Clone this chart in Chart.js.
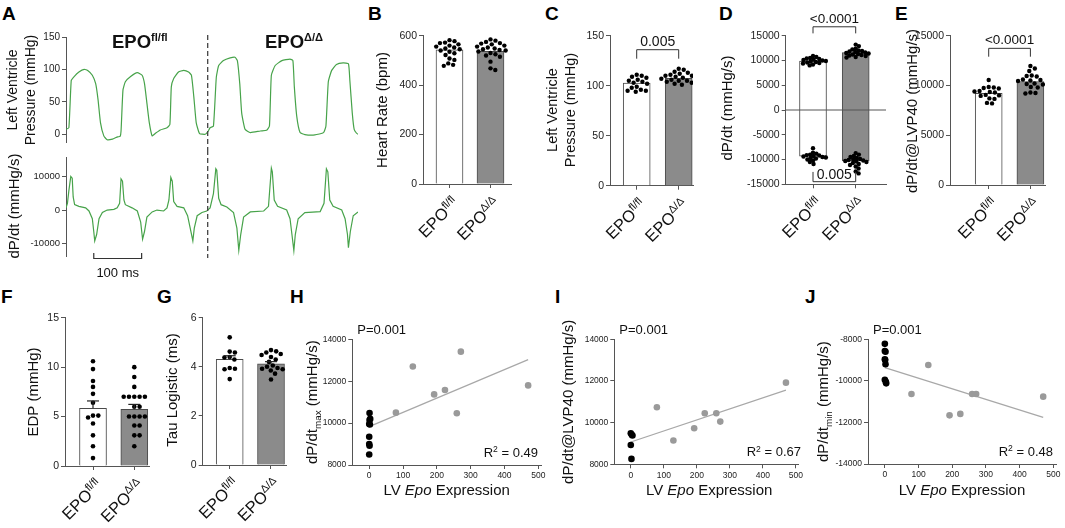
<!DOCTYPE html>
<html>
<head>
<meta charset="utf-8">
<script src="https://cdn.jsdelivr.net/npm/chart.js@4.4.1/dist/chart.umd.min.js"></script>
<style>
  html, body { margin: 0; padding: 0; background: #fff; }
  #fig { position: relative; width: 1065px; height: 528px; overflow: hidden; font-family: "Liberation Sans", Arial, sans-serif; }
  .lt { position: absolute; font-weight: bold; font-size: 19px; line-height: 19px; color: #000; }
</style>
</head>
<body>
<div id="fig">
  <div class="lt" style="left:2px;top:4px">A</div>
  <div class="lt" style="left:368px;top:4px">B</div>
  <div class="lt" style="left:545px;top:4px">C</div>
  <div class="lt" style="left:719px;top:4px">D</div>
  <div class="lt" style="left:895px;top:4px">E</div>
  <div class="lt" style="left:1px;top:287px">F</div>
  <div class="lt" style="left:157px;top:287px">G</div>
  <div class="lt" style="left:290px;top:287px">H</div>
  <div class="lt" style="left:555px;top:287px">I</div>
  <div class="lt" style="left:805px;top:287px">J</div>
</div>
<script>
// ---- values ----
const groupSup = ['fl/fl', 'Δ/Δ'];

// A: representative traces, time in ms
const pressT = [0, 6, 11, 17, 27, 38, 46, 55, 62, 67, 72, 79, 86, 97, 108, 113, 115, 119, 124, 135,
  149, 159, 164, 169, 174, 180, 187, 197, 211, 217, 220, 225, 235, 246, 256, 262, 267, 272, 279, 291,
  296, 301, 308, 314, 319, 329, 343, 353, 358, 363, 367, 374, 385, 406, 419, 425, 429, 437, 451, 468,
  474, 477, 482, 489, 499, 520, 538, 543, 548, 555, 565, 579, 590, 593, 598, 602, 607, 610];
const pressV = [7.6, 10, 83, 89, 96, 100, 98, 91, 78, 53, 18, -2.5, -8.6, -7.6, -4, -3.5, 5, 68, 81, 89,
  95, 91, 78, 48, 18, -2.5, 1.5, 6.6, 10, 15, 73, 86, 96, 98.5, 96, 91, 58, 18, 1, 0,
  3.5, 10, 12.6, 88, 106, 113.6, 117.7, 118.7, 113.6, 78, 33, 7.6, 2.5, 5, 6, 12.6, 91, 106, 113.6, 116,
  113.6, 73, 28, 2.5, -0.5, -1, 2.5, 12.6, 81, 98.5, 107.6, 110, 108.6, 83, 33, 7.6, 1.5, 0];
const dpT = [0, 3, 6, 10, 13, 15, 18, 27, 41, 48, 55, 58, 60, 64, 69, 76, 86, 100, 107, 112,
  115, 118, 121, 124, 138, 149, 156, 160, 164, 169, 180, 190, 204, 211, 215, 219, 222, 225, 232, 246,
  254, 261, 265, 268, 274, 284, 294, 301, 308, 313, 315, 319, 324, 336, 350, 357, 361, 365, 371, 385,
  413, 423, 429, 431, 435, 442, 461, 468, 472, 476, 479, 485, 499, 531, 539, 544, 547, 551, 558, 576,
  583, 588, 590, 594, 600, 610];
const dpV = [650, 2000, 5800, 10000, 9500, 3900, 1600, 1100, 650, -280, -2600, -6400, -9200, -7300, -2600, -750, 0, 200, 650, 2000,
  9300, 8600, 3000, 1600, 650, -280, -3600, -8700, -6400, -2100, -560, 0, -280, 650, 3000, 9700, 8600, 2500, 1100, 650,
  -1700, -6400, -9200, -5400, -1700, -750, -280, 650, 4900, 12300, 11900, 3500, 1600, 900, -750, -5400, -12000, -7300, -2100, -560,
  -280, 1100, 12500, 11400, 3000, 1100, 0, -2600, -7300, -12100, -7300, -2600, -750, -470, 2000, 12300, 11400, 3000, 1100, 0,
  -2600, -7300, -11200, -6400, -1700, -560];
const pressTicks = [0, 50, 100, 150];
const dpTraceTicks = [-10000, 0, 10000];
const splitT = 296;
const scaleBarT = [58, 158];

// B: heart rate (bpm)
const hrFl = [582, 578, 572, 570, 565, 560, 556, 552, 548, 545, 540, 535, 529, 522, 508, 502, 488, 482, 478];
const hrDel = [585, 580, 575, 570, 568, 565, 560, 556, 552, 548, 545, 542, 540, 536, 530, 525, 520, 515, 495, 468, 461];
const hrMean = [543, 537];
const hrTicks = [0, 200, 400, 600];

// C: LV pressure (mmHg)
const lvpFl = [111, 110, 109, 108, 106, 105, 104, 103, 102, 99, 98, 96, 95, 94, 95];
const lvpDel = [117, 116, 114, 113, 112, 111, 110, 110, 109, 108, 108, 107, 106, 105, 105, 104, 103, 102, 101, 103];
const lvpMean = [102.7, 107.3];
const lvpTicks = [0, 50, 100, 150];

// D: dP/dt max and min (mmHg/s)
const dpMaxFl = [10900, 10700, 10500, 10400, 10300, 10200, 10100, 10000, 9900, 9800, 9700, 9600, 9500, 9400, 9200, 9000];
const dpMinFl = [-7700, -8600, -8800, -9000, -9100, -9200, -9300, -9400, -9500, -9600, -9700, -9800, -10000, -10200, -10500, -10900];
const dpMaxDel = [13200, 12900, 12400, 12200, 12000, 11900, 11800, 11700, 11600, 11500, 11400, 11300, 11200, 11100, 11000, 10900, 10700, 10600];
const dpMinDel = [-8700, -9000, -9300, -9500, -9700, -9900, -10000, -10100, -10200, -10300, -10400, -10500, -10700, -10900, -11100, -11400, -11800, -12400, -12800];
const dpMaxMean = [9900, 11600];
const dpMinMean = [-9300, -10300];
const dpTicks = [-15000, -10000, -5000, 0, 5000, 10000, 15000];

// E: dP/dt @ LVP40 (mmHg/s)
const lvp40Fl = [10550, 9850, 9800, 9750, 9700, 9450, 9400, 9350, 9300, 9050, 9000, 8950, 8700, 8650, 8250, 8200];
const lvp40Del = [11950, 11700, 11450, 11000, 10950, 10900, 10600, 10550, 10500, 10450, 10200, 10150, 10100, 9850, 9800, 9300, 9250, 9200];
const lvp40Mean = [9200, 10400];
const lvp40Ticks = [0, 5000, 10000, 15000];

// F: EDP (mmHg)
const edpFl = [10.6, 9.8, 8.6, 8.0, 7.3, 6.4, 5.1, 5.1, 4.9, 4.3, 3.1, 2.0, 0.8];
const edpDel = [10, 9, 8, 7, 7, 7, 7, 7, 6, 6, 5, 5, 5, 5, 4.1, 4.1, 3.1, 3.1, 2.0];
const edpMean = [5.83, 5.73];
const edpSem = [0.75, 0.5];
const edpTicks = [0, 5, 10, 15];

// G: Tau logistic (ms)
const tauFl = [5.2, 4.62, 4.58, 4.4, 4.38, 4.3, 3.95, 3.92, 3.9, 3.5];
const tauDel = [4.68, 4.63, 4.58, 4.52, 4.48, 4.4, 4.3, 4.2, 4.05, 4.0, 3.95, 3.92, 3.9, 3.85, 3.72, 3.48];
const tauMean = [4.30, 4.12];
const tauSem = [0.15, 0.09];
const tauTicks = [0, 2, 4, 6];

// H-J: LV Epo expression vs contractility
const exprTicks = [0, 100, 200, 300, 400, 500];
const epoExpr = [79, 129, 192, 224, 259, 271, 470];
const hCtrlX = [1, 3, 1, 0, 2, 0, 0, 1, 0];
const hCtrlY = [10480, 10200, 10150, 9960, 9930, 9350, 9000, 8920, 8500];
const hEpoY = [10500, 12700, 11370, 11580, 10470, 13410, 11800];
const hFit = [[0, 9830], [470, 13030]];
const iCtrlX = [0, 3, 5, 0, 2];
const iCtrlY = [9490, 9420, 9380, 8930, 8260];
const iEpoY = [10740, 9140, 9730, 10450, 10450, 10050, 11920];
const iFit = [[0, 9070], [470, 11560]];
const jCtrlX = [0, 0, 2, 0, 1, 2, 0, 3, 4];
const jCtrlY = [-8220, -8560, -8600, -8960, -9000, -9200, -9950, -10050, -10120];
const jEpoY = [-10630, -9240, -11660, -11590, -10630, -10630, -10760];
const jFit = [[0, -9360], [470, -11760]];
const corrTicks = [8000, 10000, 12000, 14000];
const corrTicksNeg = [-14000, -12000, -10000, -8000];
const pLabels = ['P=0.001', 'P=0.001', 'P=0.001'];
const r2Labels = ['0.49', '0.67', '0.48'];

// ---- drawing ----
const FONT = '"Liberation Sans", Arial, Helvetica, sans-serif';
const AX = '#555';
const GREEN = '#47a34a';
const GRAY_BAR = '#8b8b8b';
const fig = document.getElementById('fig');

const T = t => ({ t }), SUP = t => ({ t, sup: true }), SUB = t => ({ t, sub: true }), IT = t => ({ t, i: true });

// text with super/subscript and italic runs
function rich(ctx, parts, x, y, size, o = {}) {
  const small = size * (o.supScale || 0.66);
  const fnt = p => (p.i ? 'italic ' : '') + (o.bold ? 'bold ' : '') + ((p.sup || p.sub) ? small : size) + 'px ' + FONT;
  ctx.save();
  ctx.translate(x, y);
  ctx.rotate(o.rot || 0);
  ctx.fillStyle = o.color || '#111';
  ctx.textAlign = 'left';
  ctx.textBaseline = 'alphabetic';
  const ws = parts.map(p => { ctx.font = fnt(p); return ctx.measureText(p.t).width; });
  const tot = ws.reduce((a, b) => a + b, 0);
  let cx = o.align === 'center' ? -tot / 2 : o.align === 'right' ? -tot : 0;
  const by = o.mid ? size * 0.36 : 0;
  parts.forEach((p, k) => {
    ctx.font = fnt(p);
    ctx.fillText(p.t, cx, by + (p.sup ? -size * 0.36 : p.sub ? size * 0.24 : 0));
    cx += ws[k];
  });
  ctx.restore();
}

function axis(min, max, ticks, size, labels = true) {
  return {
    type: 'linear', min, max, offset: false,
    afterBuildTicks: s => { s.ticks = ticks.map(value => ({ value })); },
    grid: { drawOnChartArea: false, tickLength: 4, color: AX, lineWidth: 1, offset: false },
    border: { display: true, color: AX, width: 1 },
    ticks: { display: labels, autoSkip: false, maxRotation: 0, minRotation: 0, padding: 2, color: '#222',
      font: { family: FONT, size }, callback: v => String(v) }
  };
}
function hiddenX(min, max) {
  return { type: 'linear', min, max, grid: { display: false }, border: { display: false }, ticks: { display: false } };
}

// rect = canvas box on the page, area = plot box on the page
function build(rect, area, cfg, draw) {
  const cv = document.createElement('canvas');
  cv.width = rect[2]; cv.height = rect[3];
  cv.style.cssText = `position:absolute;left:${rect[0]}px;top:${rect[1]}px;width:${rect[2]}px;height:${rect[3]}px`;
  fig.appendChild(cv);
  const yW = area[0] - rect[0], xH = rect[1] + rect[3] - area[3];
  cfg.options.scales.x.afterFit = s => { s.height = xH; };
  cfg.options.scales.y.afterFit = s => { s.width = yW; };
  Object.assign(cfg.options, {
    responsive: false, animation: false, devicePixelRatio: 1,
    layout: { padding: { left: 0, top: area[1] - rect[1], right: rect[0] + rect[2] - area[2], bottom: 0 } },
    plugins: { legend: { display: false }, tooltip: { enabled: false } }
  });
  cfg.plugins = [{
    id: 'deco',
    afterDraw(c) {
      const ctx = c.ctx;
      ctx.save();
      ctx.translate(-rect[0], -rect[1]);
      const px = v => c.scales.x.getPixelForValue(v) + rect[0];
      const py = v => c.scales.y.getPixelForValue(v) + rect[1];
      draw(ctx, px, py, c);
      ctx.restore();
    }
  }];
  return new Chart(cv, cfg);
}

// beeswarm offsets so dots of one column don't pile up
function swarm(vals, pxPerY, pxPerX, d) {
  const placed = [], out = [];
  const idx = vals.map((_, i) => i).sort((a, b) => vals[b] - vals[a]);
  for (const i of idx) {
    const y = vals[i] * pxPerY;
    const cands = [0];
    placed.forEach(q => {
      const dy = Math.abs(q.y - y);
      if (dy < d) { const dx = Math.sqrt(d * d - dy * dy); cands.push(q.x + dx, q.x - dx); }
    });
    cands.sort((a, b) => Math.abs(a) - Math.abs(b));
    const x = cands.find(c => placed.every(q => (q.x - c) ** 2 + (q.y - y) ** 2 >= d * d - 0.01));
    placed.push({ x, y });
    out[i] = x / pxPerX;
  }
  return out;
}

function line(ctx, pts, color = '#333', w = 1, dash = []) {
  ctx.save();
  ctx.strokeStyle = color; ctx.lineWidth = w; ctx.setLineDash(dash);
  ctx.beginPath();
  pts.forEach(([x, y], k) => k ? ctx.lineTo(x, y) : ctx.moveTo(x, y));
  ctx.stroke();
  ctx.restore();
}

function bracket(ctx, px, py, yv, endv, label, size, under) {
  const x0 = px(0), x1 = px(1), y = py(yv), ye = py(endv);
  line(ctx, [[x0, ye], [x0, y], [x1, y], [x1, ye]], '#333', 1);
  rich(ctx, [T(label)], (x0 + x1) / 2, under ? y - 2.5 : y - 4, size, { align: 'center' });
}

function errBar(ctx, x, y0, y1) {
  line(ctx, [[x, y0], [x, y1]], '#222', 1.2);
  line(ctx, [[x - 6, y1], [x + 6, y1]], '#222', 1.2);
}

function barPanel(p) {
  const xMin = -(p.c0 - p.area[0]) / p.unit, xMax = (p.area[2] - p.c0) / p.unit;
  const pxY = (p.area[3] - p.area[1]) / (p.y[1] - p.y[0]);
  const floating = Array.isArray(p.bars[0]);
  const ds = [{
    type: 'bar', data: p.bars.map((b, i) => ({ x: i, y: b })),
    backgroundColor: ['#ffffff', GRAY_BAR], borderColor: '#4a4a4a', borderWidth: 1,
    borderSkipped: floating ? false : 'start', barThickness: 27, order: 3
  }];
  p.dots.forEach(([g, vals]) => {
    const off = swarm(vals, pxY, p.unit, p.sd || 2 * p.r + 0.7);
    ds.push({ type: 'scatter', data: vals.map((v, k) => ({ x: g + off[k], y: v })),
      pointRadius: p.r, backgroundColor: '#000', borderWidth: 0, order: 1 });
  });
  return build(p.rect, p.area, {
    type: 'scatter',
    data: { datasets: ds },
    options: { scales: { x: axis(xMin, xMax, [0, 1], 10, false), y: axis(p.y[0], p.y[1], p.ticks, 10.5) } }
  }, (ctx, px, py) => {
    const yb = p.area[3];
    [0, 1].forEach(i => rich(ctx, [T('EPO'), SUP(groupSup[i])], px(i) + 6, yb + 16, 16.5,
      { align: 'right', rot: -Math.PI / 4, mid: true }));
    p.title.forEach((parts, k) => rich(ctx, parts, p.titleX[k], p.titleY, p.titleSize || 15,
      { align: 'center', rot: -Math.PI / 2, mid: true }));
    if (p.extra) p.extra(ctx, px, py);
  });
}

function corrPanel(p) {
  const ds = [
    { data: p.ctrlX.map((x, i) => ({ x, y: p.ctrlY[i] })), pointRadius: 3.3, backgroundColor: '#000', borderWidth: 0, order: 1 },
    { data: epoExpr.map((x, i) => ({ x, y: p.epoY[i] })), pointRadius: 3.3, backgroundColor: '#9a9a9a', borderWidth: 0, order: 2 },
    { data: p.fit.map(([x, y]) => ({ x, y })), showLine: true, pointRadius: 0, borderColor: '#a8a8a8', borderWidth: 1.2, order: 3 }
  ];
  return build(p.rect, p.area, {
    type: 'scatter',
    data: { datasets: ds },
    options: { scales: { x: axis(-50, 508, exprTicks, 8.5), y: axis(p.y[0], p.y[1], p.ticks, 8.5) } }
  }, (ctx) => {
    const a = p.area;
    rich(ctx, [T(pLabels[p.k])], a[0] + 5, a[1] - 5, 13);
    rich(ctx, [T('R'), SUP('2'), T(' = ' + r2Labels[p.k])], a[2] - 3, a[3] - 8, 13, { align: 'right' });
    rich(ctx, [T('LV '), IT('Epo'), T(' Expression')], (a[0] + a[2]) / 2, 495, 15, { align: 'center' });
    rich(ctx, p.title, p.titleX, (a[1] + a[3]) / 2, 15, { align: 'center', rot: -Math.PI / 2, mid: true });
  });
}

// A: pressure trace
build([0, 28, 365, 122], [66, 37, 358, 143], {
  type: 'scatter',
  data: { datasets: [{ data: pressT.map((t, i) => ({ x: t, y: pressV[i] })), showLine: true, pointRadius: 0,
    borderColor: GREEN, borderWidth: 1.2, tension: 0.15 }] },
  options: { scales: { x: hiddenX(0, 610), y: axis(-12, 150, pressTicks, 10) } }
}, (ctx, px) => {
  line(ctx, [[px(splitT), 35], [px(splitT), 150]], '#444', 1.3, [5, 3]);
  rich(ctx, [T('EPO'), SUP('fl/fl')], 112, 48, 18.5, { bold: true, supScale: 0.6 });
  rich(ctx, [T('EPO'), SUP('Δ/Δ')], 265, 48, 18.5, { bold: true, supScale: 0.6 });
  rich(ctx, [T('Left Ventricle')], 12, 90, 14, { align: 'center', rot: -Math.PI / 2, mid: true });
  rich(ctx, [T('Pressure (mmHg)')], 30, 90, 14, { align: 'center', rot: -Math.PI / 2, mid: true });
});

// A: dP/dt trace
build([0, 150, 365, 130], [66, 152, 358, 256], {
  type: 'scatter',
  data: { datasets: [{ data: dpT.map((t, i) => ({ x: t, y: dpV[i] })), showLine: true, pointRadius: 0,
    borderColor: GREEN, borderWidth: 1.2, tension: 0 }] },
  options: { scales: { x: hiddenX(0, 610), y: axis(-13700, 15600, dpTraceTicks, 9.5) } }
}, (ctx, px) => {
  line(ctx, [[px(splitT), 150], [px(splitT), 258]], '#444', 1.3, [5, 3]);
  const x0 = px(scaleBarT[0]), x1 = px(scaleBarT[1]);
  line(ctx, [[x0, 253], [x0, 258.5], [x1, 258.5], [x1, 253]], '#333', 1.2);
  rich(ctx, [T('100 ms')], (x0 + x1) / 2, 277, 13, { align: 'center' });
  rich(ctx, [T('dP/dt (mmHg/s)')], 14, 206, 15, { align: 'center', rot: -Math.PI / 2, mid: true });
});

// B
barPanel({
  rect: [368, 26, 150, 234], area: [423, 35.7, 511, 184], c0: 449.5, unit: 41,
  y: [0, 600], ticks: hrTicks, bars: hrMean, r: 2.2,
  dots: [[0, hrFl], [1, hrDel]],
  title: [[T('Heart Rate (bpm)')]], titleX: [382], titleY: 110
});

// C
barPanel({
  rect: [540, 26, 165, 234], area: [610, 35.7, 693, 185.7], c0: 636.7, unit: 42,
  y: [0, 150], ticks: lvpTicks, bars: lvpMean, r: 2.2,
  dots: [[0, lvpFl], [1, lvpDel]],
  title: [[T('Left Ventricle')], [T('Pressure (mmHg)')]], titleX: [552, 570], titleY: 110, titleSize: 14.5,
  extra: (ctx, px, py) => bracket(ctx, px, py, 136, 127, '0.005', 14)
});

// D
barPanel({
  rect: [715, 6, 175, 254], area: [785.7, 35.7, 886, 184.3], c0: 813, unit: 42.7,
  y: [-15000, 15000], ticks: dpTicks, bars: [[dpMinMean[0], dpMaxMean[0]], [dpMinMean[1], dpMaxMean[1]]], r: 2.2, sd: 3.5,
  dots: [[0, dpMaxFl], [0, dpMinFl], [1, dpMaxDel], [1, dpMinDel]],
  title: [[T('dP/dt (mmHg/s)')]], titleX: [727], titleY: 108,
  extra: (ctx, px, py) => {
    line(ctx, [[785.7, py(0)], [886, py(0)]], AX, 1);
    bracket(ctx, px, py, 16800, 15470, '<0.0001', 13.5);
    bracket(ctx, px, py, -14470, -12500, '0.005', 14, true);
  }
});

// E
barPanel({
  rect: [890, 6, 175, 254], area: [950, 35.7, 1045, 185], c0: 988.7, unit: 41.7,
  y: [0, 15000], ticks: lvp40Ticks, bars: lvp40Mean, r: 2.2,
  dots: [[0, lvp40Fl], [1, lvp40Del]],
  title: [[T('dP/dt@LVP40 (mmHg/s)')]], titleX: [912], titleY: 111,
  extra: (ctx, px, py) => bracket(ctx, px, py, 13730, 12890, '<0.0001', 13.5)
});

// F
barPanel({
  rect: [0, 308, 155, 220], area: [65, 317.7, 149, 466], c0: 93, unit: 41.3,
  y: [0, 15], ticks: edpTicks, bars: edpMean, r: 2.3,
  dots: [[0, edpFl], [1, edpDel]],
  title: [[T('EDP (mmHg)')]], titleX: [33], titleY: 392,
  extra: (ctx, px, py) => edpMean.forEach((m, i) => errBar(ctx, px(i), py(m), py(m + edpSem[i])))
});

// G
barPanel({
  rect: [155, 308, 140, 220], area: [202.7, 317.7, 286, 465], c0: 229.7, unit: 41.3,
  y: [0, 6], ticks: tauTicks, bars: tauMean, r: 2.3,
  dots: [[0, tauFl], [1, tauDel]],
  title: [[T('Tau Logistic (ms)')]], titleX: [172], titleY: 390,
  extra: (ctx, px, py) => tauMean.forEach((m, i) => errBar(ctx, px(i), py(m), py(m + tauSem[i])))
});

// H, I, J
corrPanel({ k: 0, rect: [295, 310, 255, 205], area: [352.3, 339.3, 541, 465], y: [8000, 14000], ticks: corrTicks,
  ctrlX: hCtrlX, ctrlY: hCtrlY, epoY: hEpoY, fit: hFit,
  title: [T('dP/dt'), SUB('max'), T(' (mmHg/s)')], titleX: 312 });
corrPanel({ k: 1, rect: [550, 310, 255, 205], area: [614.3, 339.3, 804, 464.3], y: [8000, 14000], ticks: corrTicks,
  ctrlX: iCtrlX, ctrlY: iCtrlY, epoY: iEpoY, fit: iFit,
  title: [T('dP/dt@LVP40 (mmHg/s)')], titleX: 568 });
corrPanel({ k: 2, rect: [805, 310, 260, 205], area: [868, 339.3, 1056, 464], y: [-14000, -8000], ticks: corrTicksNeg,
  ctrlX: jCtrlX, ctrlY: jCtrlY, epoY: jEpoY, fit: jFit,
  title: [T('dP/dt'), SUB('min'), T(' (mmHg/s)')], titleX: 823 });
</script>
</body>
</html>
